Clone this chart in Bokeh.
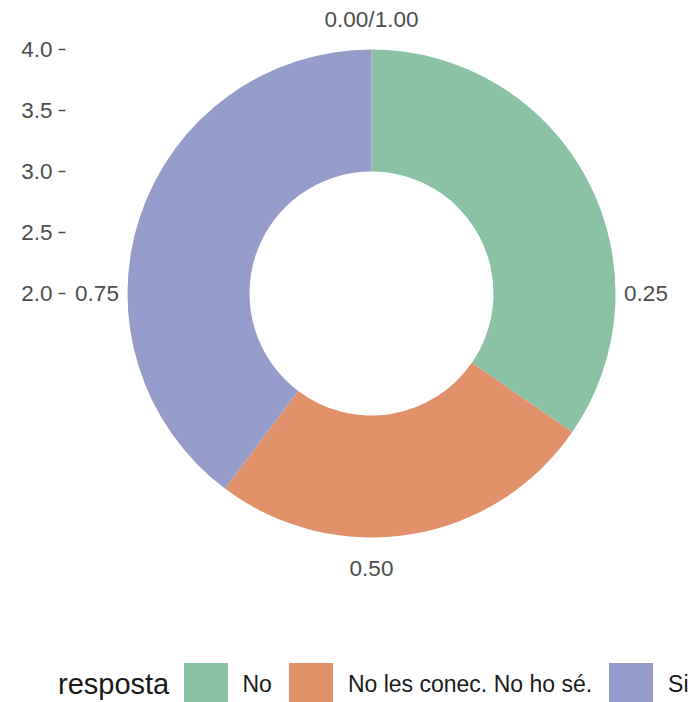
import math
from bokeh.plotting import figure
from bokeh.models import (Range1d, FixedTicker, PrintfTickFormatter, Legend,
                          LegendItem, ColumnDataSource)
from bokeh.core.properties import value
from bokeh.embed import file_html
from bokeh.resources import INLINE

# ---- data ----
categories = ["No", "No les conec. No ho sé.", "Si"]
counts = [27, 20, 31]
colors = ["#89C2A5", "#E0916A", "#959CC9"]
theta_ticks = [0.0, 0.25, 0.5, 0.75]
theta_tick_labels = ["0.00/1.00", "0.25", "0.50", "0.75"]
r_ticks = [2.0, 2.5, 3.0, 3.5, 4.0]
legend_title = "resposta"
bar_x = 3.5          # radial position of the ring (ggplot x)
bar_width = 1.0
r_min = 2.0          # radial axis lower limit (centre of circle)

FONT = "Liberation Sans"
px_per_unit = 122.0
W, H = 695, 702
left_border = 58
cx_canvas, cy_canvas = 371.0, 293.0

frame_w = W - left_border
fx = cx_canvas - left_border
x_start = -fx / px_per_unit
x_end = (frame_w - fx) / px_per_unit
y_end = r_min + cy_canvas / px_per_unit
y_start = r_min - (H - cy_canvas) / px_per_unit

p = figure(width=W, height=H, x_range=Range1d(x_start, x_end),
           y_range=Range1d(y_start, y_end), x_axis_location=None,
           output_backend="svg", toolbar_location=None,
           min_border_left=left_border, min_border_right=0,
           min_border_top=0, min_border_bottom=0)
p.outline_line_color = None
p.grid.visible = False
p.background_fill_color = "white"

# ---- donut ----
total = float(sum(counts))
cum = 0.0
starts, ends = [], []
for c in counts:
    f0 = cum / total
    cum += c
    f1 = cum / total
    starts.append(math.pi / 2 - 2 * math.pi * f0)
    ends.append(math.pi / 2 - 2 * math.pi * f1)

src = ColumnDataSource(dict(start=starts, end=ends, color=colors, cat=categories))
p.annular_wedge(x=0, y=r_min,
                inner_radius=(bar_x - bar_width / 2) - r_min,
                outer_radius=(bar_x + bar_width / 2) - r_min,
                start_angle="start", end_angle="end", direction="clock",
                fill_color="color", line_color=None, source=src)

# ---- theta labels ----
lab_r = 2.25
tx = [lab_r * math.sin(2 * math.pi * t) for t in theta_ticks]
ty = [r_min + lab_r * math.cos(2 * math.pi * t) for t in theta_ticks]
p.text(x=tx, y=ty, text=theta_tick_labels, text_align="center",
       text_baseline="middle", text_font=value(FONT),
       text_font_size="22.5px", text_color="#4D4D4D")

# ---- radial axis (ticks drawn inward so the frame can start further left) ----
ax = p.yaxis[0]
ax.ticker = FixedTicker(ticks=r_ticks)
ax.formatter = PrintfTickFormatter(format="%.1f")
ax.axis_line_color = None
ax.minor_tick_line_color = None
ax.major_tick_in = 7
ax.major_tick_out = 0
ax.major_tick_line_color = "#4D4D4D"
ax.major_tick_line_width = 1.5
ax.major_label_standoff = 6
ax.major_label_text_font = FONT
ax.major_label_text_font_size = "22.5px"
ax.major_label_text_color = "#4D4D4D"

# ---- legend (proxy renderers that draw nothing in the plot) ----
nan = float("nan")
items = []
for cat, col in zip(categories, colors):
    r = p.rect(x=[nan], y=[nan], width=1, height=1, fill_color=col,
               line_color=None)
    items.append(LegendItem(label=cat, renderers=[r]))

legend = Legend(items=items, orientation="horizontal",
                location=(177.5 - left_border, -10),
                glyph_width=55, glyph_height=55, label_standoff=10, spacing=11,
                padding=0, margin=0, border_line_color=None,
                background_fill_alpha=0, label_text_font=FONT,
                label_text_font_size="23px", label_text_color="#1A1A1A",
                label_text_baseline="middle")
p.add_layout(legend)

# legend title placed to the left of the keys (ggplot style)
r_title = p.rect(x=[nan], y=[nan], width=1, height=1, fill_alpha=0,
                 line_color=None)
title_legend = Legend(items=[LegendItem(label=legend_title, renderers=[r_title])],
                      orientation="horizontal", location=(0, -10),
                      glyph_width=0, glyph_height=55, label_standoff=0,
                      padding=0, margin=0, border_line_color=None,
                      background_fill_alpha=0, label_text_font=FONT,
                      label_text_font_size="29px", label_text_color="#1A1A1A",
                      label_text_baseline="middle")
p.add_layout(title_legend)

open("out.html", "w").write(file_html(p, INLINE))
